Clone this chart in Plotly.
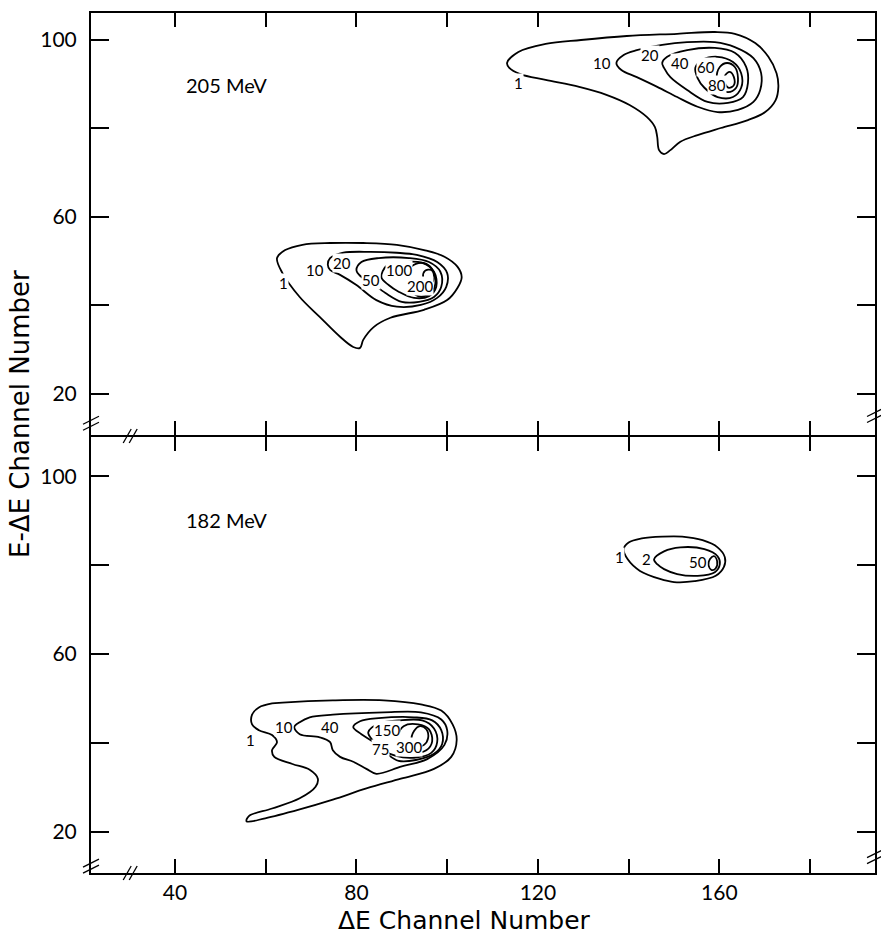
import plotly.graph_objects as go
from plotly.subplots import make_subplots

# ---------------------------------------------------------------------------
# Axis ranges and ticks
# ---------------------------------------------------------------------------
X_RANGE = [21.5, 194.3]
Y_RANGE_205 = [10.7, 106.1]
Y_RANGE_182 = [10.8, 108.8]

X_TICKS = [40, 60, 80, 100, 120, 140, 160, 180]
X_TICK_TEXT = ["40", "", "80", "", "120", "", "160", ""]
Y_TICKS = [20, 40, 60, 80, 100]
Y_TICK_TEXT = ["20", "", "60", "", "100"]

# ---------------------------------------------------------------------------
# 205 MeV: contour lines (ΔE channel, E-ΔE channel)
# ---------------------------------------------------------------------------
# lower group
E205_LO_1 = [(62.5, 50.7), (64.3, 52.5), (68.1, 53.7), (74.2, 54.1), (81.5, 54.1),
             (88.9, 53.7), (94.9, 52.5), (99.4, 51.0), (102.3, 48.7), (103.2, 46.4),
             (102.3, 44.0), (100.0, 41.2), (94.9, 39.0), (87.5, 37.2), (83.8, 35.1),
             (81.5, 32.2), (80.8, 30.4), (79.3, 30.6), (76.4, 32.9), (71.9, 37.4),
             (67.5, 41.9), (63.7, 47.3)]
E205_LO_10 = [(73.7, 49.2), (74.2, 50.7), (77.1, 51.9), (83.1, 52.1), (88.9, 51.9),
              (93.3, 51.4), (97.8, 49.8), (100.0, 47.3), (99.8, 44.2), (97.8, 41.7),
              (94.2, 40.1), (88.9, 39.7), (84.4, 41.2), (80.0, 44.6), (76.4, 46.9),
              (74.2, 48.0)]
E205_LO_20 = [(80.0, 48.0), (81.1, 49.8), (84.9, 50.7), (91.6, 50.7), (96.0, 49.8),
              (98.5, 47.6), (98.7, 44.2), (97.1, 41.9), (93.8, 40.8), (90.0, 40.8),
              (86.4, 42.8), (83.1, 45.3), (80.8, 46.7)]
E205_LO_50 = [(85.5, 46.4), (86.7, 49.0), (90.4, 49.8), (94.5, 49.6), (97.1, 47.6),
              (97.6, 44.2), (96.0, 42.1), (92.7, 41.7), (89.3, 43.1), (87.1, 44.6)]
E205_LO_100 = [(91.6, 48.0), (93.1, 49.4), (95.4, 49.4), (96.9, 47.8), (97.4, 44.9),
               (96.3, 42.6), (93.6, 42.1), (91.8, 44.0)]
E205_LO_200 = [(94.7, 46.4), (95.1, 47.8), (96.5, 48.0), (97.1, 46.7), (96.7, 45.3),
               (95.4, 45.1)]
E205_LO_LABELS = [("1", 63.9, 45.1), ("10", 70.8, 48.0), ("20", 76.8, 49.6),
                  ("50", 83.3, 45.8), ("100", 89.3, 48.0), ("200", 94.1, 44.4)]

# upper group
E205_HI_1 = [(113.2, 94.8), (115.7, 97.3), (121.7, 99.1), (129.5, 100.0), (139.6, 100.9),
             (150.7, 101.4), (159.0, 101.8), (163.4, 101.4), (167.9, 99.3), (170.8, 96.2),
             (172.6, 92.5), (173.0, 89.4), (172.4, 86.4), (170.1, 83.7), (166.3, 81.9),
             (160.3, 80.1), (155.2, 78.5), (151.4, 77.0), (149.2, 75.1), (147.8, 74.2),
             (146.7, 75.1), (146.3, 78.1), (145.8, 80.3), (144.0, 82.6), (140.2, 85.3),
             (135.1, 87.6), (129.1, 89.4), (121.7, 91.0), (116.1, 92.3), (113.7, 93.7)]
E205_HI_10 = [(137.3, 94.8), (138.9, 96.6), (141.8, 97.7), (147.4, 98.9), (152.9, 99.5),
              (159.0, 99.5), (163.4, 98.4), (167.5, 95.9), (169.2, 92.5), (169.0, 88.7),
              (167.5, 86.0), (164.1, 84.2), (159.6, 83.7), (155.2, 84.9), (150.7, 87.1),
              (146.3, 89.4), (141.8, 91.6), (138.4, 93.2)]
E205_HI_20 = [(147.4, 94.8), (148.5, 96.2), (152.9, 97.7), (159.0, 98.2), (163.4, 97.1),
              (165.9, 93.9), (166.3, 90.3), (165.2, 87.1), (161.9, 85.8), (157.4, 86.0),
              (152.9, 88.7), (149.2, 91.6), (147.8, 93.7)]
E205_HI_40 = [(154.7, 93.7), (156.3, 95.5), (159.6, 96.2), (163.0, 95.0), (164.8, 92.5),
              (164.8, 89.2), (163.0, 87.1), (159.6, 87.1), (156.7, 89.2), (155.2, 91.4)]
E205_HI_60 = [(160.1, 93.9), (161.7, 94.8), (163.4, 93.9), (164.1, 91.4), (163.7, 89.2),
              (161.9, 88.2), (160.1, 89.2), (159.4, 91.4)]
E205_HI_80 = [(161.2, 91.9), (162.3, 92.8), (163.2, 91.6), (163.2, 89.8), (162.1, 89.2),
              (161.2, 90.3)]
E205_HI_LABELS = [("1", 115.7, 90.3), ("10", 134.2, 94.8), ("20", 144.7, 96.6),
                  ("40", 151.4, 94.8), ("60", 157.0, 94.0), ("80", 159.4, 89.8)]

# ---------------------------------------------------------------------------
# 182 MeV: contour lines
# ---------------------------------------------------------------------------
# lower group
E182_LO_1 = [(57.0, 46.4), (58.5, 48.0), (61.4, 48.9), (63.7, 49.1), (74.8, 49.6),
             (86.0, 49.6), (94.2, 48.7), (98.7, 47.3), (101.2, 44.2), (102.1, 40.7),
             (100.9, 36.9), (97.1, 34.2), (89.8, 32.0), (82.2, 29.8), (74.8, 27.3),
             (67.5, 25.1), (59.9, 23.1), (55.8, 22.4), (56.3, 23.6), (61.4, 25.3),
             (67.5, 27.6), (71.0, 30.2), (71.5, 32.0), (69.7, 34.0), (65.9, 35.3),
             (61.9, 36.9), (61.4, 38.4), (62.5, 40.2), (61.4, 41.8), (58.5, 42.9),
             (57.0, 44.2)]
E182_LO_10 = [(66.3, 43.6), (67.5, 44.7), (69.7, 45.8), (74.8, 46.4), (86.0, 46.9),
              (94.2, 46.9), (98.7, 45.3), (100.0, 42.9), (99.4, 39.6), (95.6, 36.4),
              (89.8, 34.7), (84.4, 33.1), (82.2, 34.2), (79.3, 35.8), (76.4, 36.9),
              (74.8, 38.4), (74.2, 40.2), (71.9, 41.3), (67.5, 42.0)]
E182_LO_40 = [(79.3, 43.6), (80.8, 44.9), (84.9, 45.6), (92.7, 45.8), (96.7, 45.1),
              (98.7, 42.9), (98.9, 39.8), (97.1, 37.6), (93.1, 36.2), (89.3, 36.0),
              (86.7, 37.6), (83.8, 40.2), (81.1, 42.0)]
E182_LO_75 = [(82.6, 42.4), (84.9, 44.4), (89.3, 45.1), (94.5, 45.1), (97.1, 43.3),
              (97.8, 40.2), (96.5, 37.8), (92.7, 36.7), (88.7, 37.1), (86.0, 38.4),
              (83.8, 40.4)]
E182_LO_150 = [(89.3, 41.8), (90.4, 43.8), (93.6, 44.2), (96.0, 43.1), (96.7, 40.4),
               (95.4, 38.4), (92.2, 37.8), (90.0, 39.1)]
E182_LO_300 = [(92.2, 40.7), (92.7, 42.7), (94.0, 43.8), (95.4, 43.1), (95.8, 41.1),
               (94.9, 39.6), (93.4, 39.3)]
E182_LO_LABELS = [("1", 56.7, 40.7), ("10", 64.1, 43.6), ("40", 74.2, 43.6),
                  ("150", 86.7, 42.9), ("75", 85.3, 38.7), ("300", 91.6, 39.1)]

# upper group
E182_HI_1 = [(138.9, 83.6), (140.0, 85.1), (142.9, 86.0), (147.4, 86.4), (151.8, 86.4),
             (156.3, 85.6), (159.6, 84.0), (161.2, 81.8), (161.0, 79.6), (159.2, 77.6),
             (154.5, 76.4), (150.0, 76.2), (146.9, 76.9), (142.5, 78.7), (139.8, 81.3)]
E182_HI_2 = [(145.6, 81.3), (147.8, 83.1), (151.4, 84.0), (156.7, 83.6), (159.6, 82.0),
             (160.1, 80.2), (159.0, 78.4), (155.2, 77.6), (150.7, 78.0), (147.8, 79.1),
             (146.3, 80.2)]
E182_HI_50 = [(157.9, 81.3), (158.8, 82.0), (159.5, 80.9), (159.2, 79.3), (158.3, 78.9),
              (157.6, 80.0)]
E182_HI_LABELS = [("1", 138.0, 81.8), ("2", 144.0, 81.3), ("50", 155.2, 80.7)]

PANELS = [
    # (row, energy label, label position, contour lists, contour labels)
    (1, "205 MeV", (42.0, 89.8),
     [E205_LO_1, E205_LO_10, E205_LO_20, E205_LO_50, E205_LO_100, E205_LO_200,
      E205_HI_1, E205_HI_10, E205_HI_20, E205_HI_40, E205_HI_60, E205_HI_80],
     E205_LO_LABELS + E205_HI_LABELS),
    (2, "182 MeV", (42.0, 90.2),
     [E182_LO_1, E182_LO_10, E182_LO_40, E182_LO_75, E182_LO_150, E182_LO_300,
      E182_HI_1, E182_HI_2, E182_HI_50],
     E182_LO_LABELS + E182_HI_LABELS),
]

FONT = "Lato"
TITLE_FONT = "DejaVu Sans"
INK = "black"

fig = make_subplots(rows=2, cols=1, shared_xaxes=True, vertical_spacing=0)

annotations = []
for row, energy, (ex, ey), contours, labels in PANELS:
    xref = "x" if row == 1 else "x2"
    yref = "y" if row == 1 else "y2"
    for pts in contours:
        closed = pts + [pts[0]]
        fig.add_trace(
            go.Scatter(
                x=[p[0] for p in closed],
                y=[p[1] for p in closed],
                mode="lines",
                line=dict(color=INK, width=1.8, shape="spline", smoothing=1.0),
                hoverinfo="skip",
                showlegend=False,
            ),
            row=row, col=1,
        )
    for text, lx, ly in labels:
        annotations.append(dict(
            text=text, x=lx, y=ly, xref=xref, yref=yref, showarrow=False,
            font=dict(family=FONT, size=15, color=INK),
            bgcolor="white", borderpad=0,
        ))
    annotations.append(dict(
        text=energy, x=ex, y=ey, xref=xref, yref=yref, showarrow=False,
        xanchor="left", font=dict(family=FONT, size=20, color=INK),
    ))

# axis titles
annotations.append(dict(
    text="ΔE Channel Number", x=0.476, y=-0.0547, xref="paper", yref="paper",
    xanchor="center", yanchor="middle",
    showarrow=False, font=dict(family=TITLE_FONT, size=25, color=INK),
))
annotations.append(dict(
    text="E-ΔE Channel Number", x=-0.0903, y=0.534, xref="paper", yref="paper",
    xanchor="center", yanchor="middle",
    showarrow=False, textangle=-90, font=dict(family=TITLE_FONT, size=26, color=INK),
))

axis_common = dict(
    showline=True, linecolor=INK, linewidth=2, mirror="ticks",
    ticks="inside", tickcolor=INK, tickwidth=2,
    showgrid=False, zeroline=False,
    tickfont=dict(family=FONT, size=21, color=INK),
)

PLOT_W = 881 - 91 - 4
PLOT_H = 943 - 13 - 70
# the two panels' edge lines are drawn outside their domains, so leave a
# 2-pixel gap for them to land on the same row
TOP_LOW = 438 / PLOT_H
BOT_HIGH = 436 / PLOT_H
SPLIT = 437 / PLOT_H

fig.update_layout(
    width=881, height=943,
    margin=dict(l=91, r=4, t=13, b=70),
    plot_bgcolor="white", paper_bgcolor="white",
    xaxis=dict(range=X_RANGE, tickvals=X_TICKS, ticktext=X_TICK_TEXT,
               showticklabels=False, ticklen=14, **axis_common),
    xaxis2=dict(range=X_RANGE, tickvals=X_TICKS, ticktext=X_TICK_TEXT,
                ticklen=14, ticklabelstandoff=0, **axis_common),
    yaxis=dict(range=Y_RANGE_205, tickvals=Y_TICKS, ticktext=Y_TICK_TEXT,
               domain=[TOP_LOW, 1], ticklen=18, ticklabelstandoff=8, **axis_common),
    yaxis2=dict(range=Y_RANGE_182, tickvals=Y_TICKS, ticktext=Y_TICK_TEXT,
                domain=[0, BOT_HIGH], ticklen=18, ticklabelstandoff=8, **axis_common),
    annotations=annotations,
)


def slash_pair(cx, cy, horizontal_axis):
    """Two short parallel strokes centred on paper point (cx, cy)."""
    dx, dy = 1.0 / PLOT_W, 1.0 / PLOT_H
    shapes = []
    for off in (-3, 3):
        if horizontal_axis:
            x0, y0 = cx + (off - 4) * dx, cy - 7 * dy
            x1, y1 = cx + (off + 4) * dx, cy + 7 * dy
        else:
            x0, y0 = cx - 8 * dx, cy + (off - 4) * dy
            x1, y1 = cx + 8 * dx, cy + (off + 4) * dy
        shapes.append(dict(type="line", xref="paper", yref="paper",
                           x0=x0, y0=y0, x1=x1, y1=y1,
                           line=dict(color=INK, width=1.3)))
    return shapes


break_shapes = []
break_shapes += slash_pair(0.0, 0.523, False)
break_shapes += slash_pair(0.0, 0.008, False)
break_shapes += slash_pair(1.0, 0.532, False)
break_shapes += slash_pair(1.0, 0.019, False)
break_shapes += slash_pair(0.05, SPLIT, True)
break_shapes += slash_pair(0.05, 0.0, True)
fig.update_layout(shapes=break_shapes)

fig.write_html("out.html")
